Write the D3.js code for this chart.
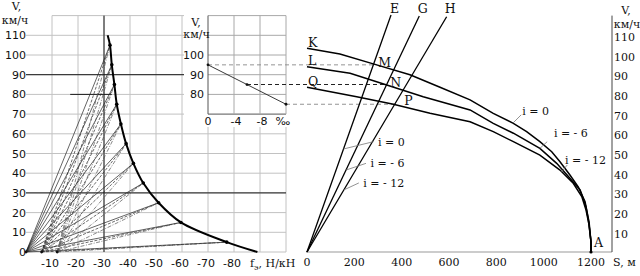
<!DOCTYPE html>
<html>
<head>
<meta charset="utf-8">
<style>
  body { margin: 0; background: #fff; }
  text { fill: #111; }
  .sans { font-family: "DejaVu Sans", sans-serif; font-size: 11px; }
  .serif { font-family: "DejaVu Serif", serif; font-size: 11px; }
  .letter { font-family: "DejaVu Serif", serif; font-size: 12.5px; }
</style>
</head>
<body>
<svg id="chart" width="640" height="276"></svg>
<script src="https://d3js.org/d3.v7.min.js"></script>
<script>
// ---- left: specific braking force f vs speed V
const gridV = [0, 10, 20, 30, 40, 50, 60, 70, 80, 90, 100, 110, 120]
const gridF = [-10, -20, -30, -40, -50, -60, -70, -80, -90, -100]
const leftTicksV = [0, 10, 20, 30, 40, 50, 60, 70, 80, 90, 100, 110]
const leftTicksF = [-10, -20, -30, -40, -50, -60, -70, -80]
const heavyV = [30, 90]
const heavyF = [-30]
const curveV = [110, 105, 95, 85, 75, 65, 55, 45, 35, 25, 15, 5, 0]
const curveF = [-31.4, -32.3, -33, -34, -34.9, -36.5, -38.5, -41.3, -45.1, -51, -59.6, -77.2, -89]
const dotV = [105, 95, 85, 75, 65, 55, 45, 35, 25, 15, 5]
const dotF = [-32.3, -33, -34, -34.9, -36.5, -38.5, -41.3, -45.1, -51, -59.6, -77.2]
const poleF = [0, -6, -12]
const markV = 80, markF = [-17, -33]

// ---- inset: allowed speed vs grade i
const insetGridI = [0, -4, -8, -12]
const insetGridV = [70, 80, 90, 100, 110, 120]
const insetTicksV = [80, 90, 100]
const insetI = [0, -6, -12]
const insetV = [95, 85, 75]

// ---- right: braking curves V(S), end at A
const sK = [0, 139, 280, 435, 562, 689, 787, 872, 928, 984, 1034, 1069, 1111, 1146, 1175, 1189, 1200, 1200]
const vK = [103.4, 100.5, 95.5, 90, 83.6, 77.2, 70.4, 65.3, 61.1, 56, 50.9, 45.8, 39.1, 33.1, 25.5, 16.2, 5.2, 0]
const sL = [0, 182, 337, 491, 689, 787, 872, 984, 1055, 1111, 1154, 1179, 1192, 1200, 1200]
const vL = [94, 90.7, 84.8, 78.8, 72.1, 65.3, 60.3, 52.6, 45, 37.4, 31.5, 23, 15, 5, 0]
const sQ = [0, 210, 365, 520, 689, 787, 872, 984, 1069, 1125, 1161, 1179, 1192, 1200, 1200]
const vQ = [83.6, 78.8, 75, 70.4, 66.1, 61.1, 56, 49.2, 41.6, 34.9, 28.1, 21.3, 13.7, 5, 0]
const curveNames = ['K', 'L', 'Q']
const gradeLabels = ['i = 0', 'i = - 6', 'i = - 12']
// preparatory distance lines through origin
const lineNames = ['E', 'G', 'H']
const lineTopS = [355, 474.5, 590]
const lineTopV = [120.3, 119.8, 119.4]
const pointNames = ['M', 'N', 'P']
const distTicks = [0, 200, 400, 600, 800, 1000, 1200]
const rightTicksV = [10, 20, 30, 40, 50, 60, 70, 80, 90, 100, 110]

const svg = d3.select('#chart')

const yV = d3.scaleLinear([0, 120], [252, 15.6])
const xF = d3.scaleLinear([0, -100], [26, 286])
const xI = d3.scaleLinear([0, -12], [208, 286])
const xS = d3.scaleLinear([0, 1200], [307, 591])

// ===== left chart grid
const grid = svg.append('g')
grid.selectAll('line.h')
  .data(gridV)
  .join('line')
    .attr('x1', d => d === 120 ? xF(-10) : xF(0))
    .attr('x2', xF(-100))
    .attr('y1', d => yV(d)).attr('y2', d => yV(d))
    .style('stroke', '#c2c2c2')
grid.selectAll('line.v')
  .data(gridF)
  .join('line')
    .attr('x1', d => xF(d)).attr('x2', d => xF(d))
    .attr('y1', yV(0)).attr('y2', yV(120))
    .style('stroke', '#c2c2c2')

// heavy reference lines
svg.selectAll('line.hv')
  .data(heavyV)
  .join('line')
    .attr('x1', xF(0)).attr('x2', xF(-100))
    .attr('y1', d => yV(d)).attr('y2', d => yV(d))
    .style('stroke', '#1a1a1a')
svg.selectAll('line.hf')
  .data(heavyF)
  .join('line')
    .attr('x1', d => xF(d)).attr('x2', d => xF(d))
    .attr('y1', yV(0)).attr('y2', yV(120))
    .style('stroke', '#1a1a1a')
svg.append('line')
  .attr('x1', xF(markF[0])).attr('x2', xF(markF[1]))
  .attr('y1', yV(markV)).attr('y2', yV(markV))
  .style('stroke', '#1a1a1a')

// rays from the poles to the mid-interval points
const rayStyle = [
  { stroke: '#222', dash: null },
  { stroke: '#2a2a2a', dash: '3,1.5' },
  { stroke: '#555', dash: '4,1.5,1,1.5' }
]
poleF.forEach((p, pi) => {
  svg.append('g').selectAll('line')
    .data(dotV)
    .join('line')
      .attr('x1', xF(p)).attr('y1', yV(0))
      .attr('x2', (d, i) => xF(dotF[i])).attr('y2', d => yV(d))
      .style('stroke', rayStyle[pi].stroke)
      .style('stroke-width', 0.7)
      .style('stroke-dasharray', rayStyle[pi].dash)
})
svg.selectAll('circle.pole')
  .data(poleF)
  .join('circle')
    .attr('cx', d => xF(d)).attr('cy', yV(0)).attr('r', 1.4)
    .style('fill', '#111')

// braking force curve
const forceLine = d3.line()
  .x((d, i) => xF(curveF[i]))
  .y(d => yV(d))
  .curve(d3.curveCatmullRom)
svg.append('path')
  .attr('d', forceLine(curveV))
  .style('fill', 'none').style('stroke', '#000').style('stroke-width', 2)
svg.selectAll('circle.dot')
  .data(dotV)
  .join('circle')
    .attr('cx', (d, i) => xF(dotF[i])).attr('cy', d => yV(d)).attr('r', 1.8)
    .style('fill', '#000')

// left axis labels
svg.append('g').selectAll('text')
  .data(leftTicksV)
  .join('text')
    .attr('class', 'sans')
    .attr('x', xF(0)).attr('y', d => yV(d) + 4)
    .attr('text-anchor', 'end')
    .text(d => d)
svg.append('g').selectAll('text')
  .data(leftTicksF)
  .join('text')
    .attr('class', 'sans')
    .attr('x', d => xF(d) - 2).attr('y', 266.5)
    .attr('text-anchor', 'middle')
    .text(d => d)
svg.append('text').attr('class', 'serif').attr('x', 16.5).attr('y', 10)
  .attr('text-anchor', 'middle').text('V,')
svg.append('text').attr('class', 'serif').attr('x', 15).attr('y', 24)
  .attr('text-anchor', 'middle').text('км/ч')
const fLabel = svg.append('text').attr('class', 'serif').attr('x', 250).attr('y', 266.5)
fLabel.append('tspan').text('f')
fLabel.append('tspan').attr('dy', 3).style('font-size', '8px').text('э')
fLabel.append('tspan').attr('dy', -3).text(', Н/кН')

// ===== inset
svg.append('rect')
  .attr('x', 184).attr('y', yV(120) - 1)
  .attr('width', xF(-100) - 184 + 1.5).attr('height', 128 - yV(120))
  .style('fill', '#fff')
svg.append('g').selectAll('line')
  .data(insetGridV)
  .join('line')
    .attr('x1', xI(0)).attr('x2', xI(-12))
    .attr('y1', d => yV(d)).attr('y2', d => yV(d))
    .style('stroke', d => d === 70 ? '#555' : '#a8a8a8')
svg.append('g').selectAll('line')
  .data(insetGridI)
  .join('line')
    .attr('x1', d => xI(d)).attr('x2', d => xI(d))
    .attr('y1', yV(70)).attr('y2', yV(120))
    .style('stroke', d => d === 0 ? '#555' : '#a8a8a8')
svg.append('g').selectAll('text')
  .data(insetTicksV)
  .join('text')
    .attr('class', 'sans')
    .attr('x', xI(0) - 4).attr('y', d => yV(d) + 4)
    .attr('text-anchor', 'end')
    .text(d => d)
svg.append('g').selectAll('text')
  .data(insetGridI)
  .join('text')
    .attr('class', 'sans')
    .attr('x', d => d === -12 ? xI(d) - 3 : d === 0 ? xI(d) : xI(d) + 2)
    .attr('y', 125)
    .attr('text-anchor', 'middle')
    .text(d => d === -12 ? '‰' : d)
svg.append('text').attr('class', 'serif').attr('x', 196).attr('y', 26)
  .attr('text-anchor', 'middle').text('V,')
svg.append('text').attr('class', 'serif').attr('x', 196.5).attr('y', 38)
  .attr('text-anchor', 'middle').text('км/ч')

// ===== right chart
// dashed transfer lines from inset to the curves
insetI.forEach((g, i) => {
  const sPt = lineTopS[i] / lineTopV[i] * insetV[i]
  svg.append('line')
    .attr('x1', xI(g)).attr('x2', xS(sPt))
    .attr('y1', yV(insetV[i])).attr('y2', yV(insetV[i]))
    .style('stroke', i === 1 ? '#222' : '#888')
    .style('stroke-width', i === 1 ? 1.1 : 0.9)
    .style('stroke-dasharray', '4,3')
})
const insetLine = d3.line()
  .x((d, i) => xI(insetI[i]))
  .y(d => yV(d))
svg.append('path')
  .attr('d', insetLine(insetV))
  .style('fill', 'none').style('stroke', '#222').style('stroke-width', 0.9)
svg.selectAll('circle.ins')
  .data(insetV)
  .join('circle')
    .attr('cx', (d, i) => xI(insetI[i])).attr('cy', d => yV(d)).attr('r', 1.4)
    .style('fill', '#111')

// axes
svg.append('line')
  .attr('x1', xS(0) - 1).attr('x2', 612)
  .attr('y1', yV(0)).attr('y2', yV(0))
  .style('stroke', '#999')
svg.append('line')
  .attr('x1', 612).attr('x2', 612)
  .attr('y1', yV(0)).attr('y2', yV(120))
  .style('stroke', '#444')
svg.append('g').selectAll('text')
  .data(distTicks)
  .join('text')
    .attr('class', 'serif')
    .attr('x', d => xS(d)).attr('y', 266)
    .attr('text-anchor', 'middle')
    .text(d => d)
svg.append('g').selectAll('text')
  .data(rightTicksV)
  .join('text')
    .attr('class', 'serif')
    .attr('x', 614).attr('y', d => yV(d) + 5.5)
    .text(d => d)
svg.append('text').attr('class', 'serif').attr('x', 613).attr('y', 266).text('S, м')
svg.append('text').attr('class', 'serif').attr('x', 626).attr('y', 14)
  .attr('text-anchor', 'middle').text('V,')
svg.append('text').attr('class', 'serif').attr('x', 627).attr('y', 28)
  .attr('text-anchor', 'middle').text('км/ч')

// preparatory distance lines E, G, H
svg.append('g').selectAll('line')
  .data(lineTopS)
  .join('line')
    .attr('x1', xS(0)).attr('y1', yV(0))
    .attr('x2', d => xS(d)).attr('y2', (d, i) => yV(lineTopV[i]))
    .style('stroke', '#000').style('stroke-width', 1.3)
svg.append('g').selectAll('text')
  .data(lineNames)
  .join('text')
    .attr('class', 'letter')
    .attr('x', (d, i) => xS(lineTopS[i]) + 3.5).attr('y', 12.5)
    .attr('text-anchor', 'middle')
    .text(d => d)

// braking curves
const brakeLine = s => d3.line()
  .x((d, i) => xS(s[i]))
  .y(d => yV(d))
const curvesS = [sK, sL, sQ], curvesV = [vK, vL, vQ]
curvesV.forEach((v, ci) => {
  svg.append('path')
    .attr('d', brakeLine(curvesS[ci])(v))
    .style('fill', 'none').style('stroke', '#000').style('stroke-width', 1.5)
})
svg.append('g').selectAll('text')
  .data(curveNames)
  .join('text')
    .attr('class', 'letter')
    .attr('x', xS(0) + 1).attr('y', (d, i) => yV(curvesV[i][0]) - 1.5)
    .text(d => d)

// intersection letters
const nameOffset = [[5, 2.3], [3.6, 2.3], [9.5, 1]]
pointNames.forEach((n, i) => {
  const s = lineTopS[i] / lineTopV[i] * insetV[i]
  svg.append('text').attr('class', 'letter')
    .attr('x', xS(s) + nameOffset[i][0]).attr('y', yV(insetV[i]) + nameOffset[i][1])
    .text(n)
})

// end point A
svg.append('circle').attr('cx', xS(1200)).attr('cy', yV(0)).attr('r', 1.6).style('fill', '#000')
svg.append('text').attr('class', 'letter').attr('x', xS(1200) + 3).attr('y', 247).text('A')

// grade labels next to the E, G, H lines
const leaderV = [52.3, 41.6, 31.5]
const leftLead = [[30, -7.3], [20, -6.7], [15, -7]]
gradeLabels.forEach((t, i) => {
  const v = leaderV[i], s = lineTopS[i] / lineTopV[i] * v
  const x0 = xS(s), y0 = yV(v)
  const x1 = x0 + leftLead[i][0], y1 = y0 + leftLead[i][1]
  svg.append('line').attr('x1', x0).attr('y1', y0).attr('x2', x1).attr('y2', y1)
    .style('stroke', '#777').style('stroke-width', 0.8)
  svg.append('text').attr('class', 'serif').attr('x', x1 + 4.5).attr('y', y1 + 4).text(t)
})

// grade labels next to the braking curves
const interp = (s, v, at) => {
  const j = d3.bisectRight(s, at) - 1
  return v[j] + (v[j + 1] - v[j]) * (at - s[j]) / (s[j + 1] - s[j])
}
const leaderS = [870, 984, 1076]
const rightLead = [[8.3, -8.3], [7.3, -6.7], [5.6, -6.7]]
const rightText = [[1, 0], [6.7, -4.4], [-2.3, -1]]
gradeLabels.forEach((t, i) => {
  const s = leaderS[i], v = interp(curvesS[i], curvesV[i], s)
  const x0 = xS(s), y0 = yV(v)
  const x1 = x0 + rightLead[i][0], y1 = y0 + rightLead[i][1]
  svg.append('line').attr('x1', x0).attr('y1', y0).attr('x2', x1).attr('y2', y1)
    .style('stroke', '#777').style('stroke-width', 0.8)
  svg.append('text').attr('class', 'serif')
    .attr('x', x1 + rightText[i][0]).attr('y', y1 + rightText[i][1]).text(t)
})
</script>
</body>
</html>
